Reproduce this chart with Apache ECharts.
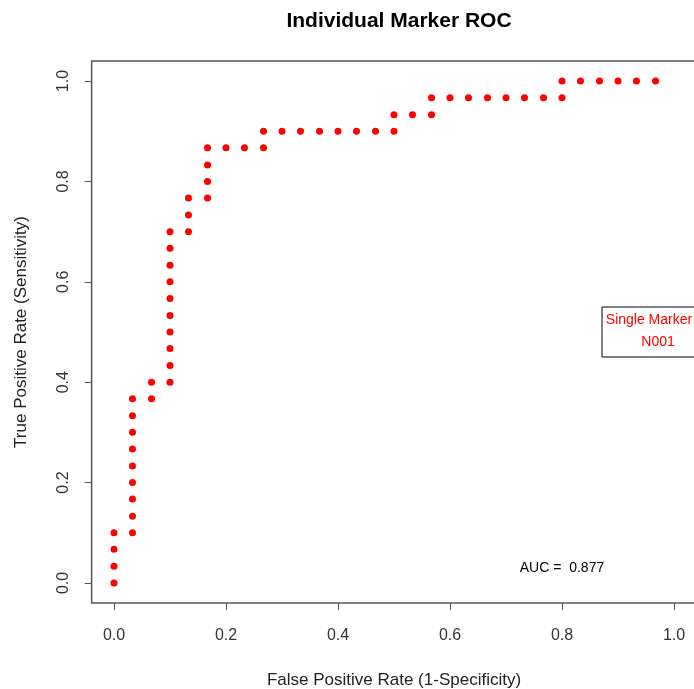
<!DOCTYPE html>
<html>
<head>
<meta charset="utf-8">
<script src="https://cdn.jsdelivr.net/npm/echarts@6/dist/echarts.min.js"></script>
<style>
html,body{margin:0;padding:0;background:#fff;}
#c{width:694px;height:689px;}
</style>
</head>
<body>
<div id="c"></div>
<script>
// False positive rate (x) and true positive rate (y)
const fpr = [
  0, 0, 0, 0,
  0.033, 0.033, 0.033, 0.033, 0.033, 0.033, 0.033, 0.033, 0.033,
  0.067, 0.067,
  0.1, 0.1, 0.1, 0.1, 0.1, 0.1, 0.1, 0.1, 0.1, 0.1,
  0.133, 0.133, 0.133,
  0.167, 0.167, 0.167, 0.167,
  0.2, 0.233, 0.267,
  0.267, 0.3, 0.333, 0.367, 0.4, 0.433, 0.467, 0.5,
  0.5, 0.533, 0.567,
  0.567, 0.6, 0.633, 0.667, 0.7, 0.733, 0.767, 0.8,
  0.8, 0.833, 0.867, 0.9, 0.933, 0.967
];
const tpr = [
  0, 0.033, 0.067, 0.1,
  0.1, 0.133, 0.167, 0.2, 0.233, 0.267, 0.3, 0.333, 0.367,
  0.367, 0.4,
  0.4, 0.433, 0.467, 0.5, 0.533, 0.567, 0.6, 0.633, 0.667, 0.7,
  0.7, 0.733, 0.767,
  0.767, 0.8, 0.833, 0.867,
  0.867, 0.867, 0.867,
  0.9, 0.9, 0.9, 0.9, 0.9, 0.9, 0.9, 0.9,
  0.933, 0.933, 0.933,
  0.967, 0.967, 0.967, 0.967, 0.967, 0.967, 0.967, 0.967,
  1, 1, 1, 1, 1, 1
];
const xTicks = [0, 0.2, 0.4, 0.6, 0.8, 1.0];
const yTicks = [0, 0.2, 0.4, 0.6, 0.8, 1.0];
const titleText = 'Individual Marker ROC';
const xTitle = 'False Positive Rate (1-Specificity)';
const yTitle = 'True Positive Rate (Sensitivity)';
const legendTitle = 'Single Marker';
const legendEntry = 'N001';
const aucLabel = 'AUC =  0.877';
const aucPos = [0.8, 0.03];

const FONT = '"Liberation Sans", Arial, sans-serif';
const chart = echarts.init(document.getElementById('c'), null, {renderer: 'canvas'});
const points = fpr.map((x, i) => [x, tpr[i]]);

chart.setOption({
  animation: false,
  backgroundColor: '#ffffff',
  title: {
    text: titleText,
    left: 394, top: 6, textAlign: 'center',
    textStyle: {fontFamily: FONT, fontSize: 21, fontWeight: 'bold', color: '#000'}
  },
  grid: {
    left: 91.6, top: 61, width: 604.8, height: 542,
    containLabel: false, outerBoundsMode: 'none',
    show: true, borderColor: '#555', borderWidth: 1.5, backgroundColor: 'transparent'
  },
  xAxis: {
    type: 'value', min: -0.04, max: 1.04,
    name: xTitle, nameLocation: 'middle', nameGap: 69,
    nameTextStyle: {fontFamily: FONT, fontSize: 17, color: '#222'},
    axisLine: {show: false, onZero: false},
    splitLine: {show: false},
    axisTick: {show: true, length: 7, customValues: xTicks, lineStyle: {color: '#555', width: 1}},
    axisLabel: {customValues: xTicks, margin: 25, fontFamily: FONT, fontSize: 16, color: '#333',
      formatter: v => v.toFixed(1)}
  },
  yAxis: {
    type: 'value', min: -0.04, max: 1.04,
    name: yTitle, nameLocation: 'middle', nameGap: 62, nameRotate: 90,
    nameTextStyle: {fontFamily: FONT, fontSize: 17, color: '#222'},
    axisLine: {show: false, onZero: false},
    splitLine: {show: false},
    axisTick: {show: true, length: 7, customValues: yTicks, lineStyle: {color: '#555', width: 1}},
    axisLabel: {customValues: yTicks, rotate: 90, margin: 20, fontFamily: FONT, fontSize: 16, color: '#333',
      formatter: v => v.toFixed(1)}
  },
  series: [{
    type: 'scatter',
    data: points,
    symbol: 'circle',
    symbolSize: 7,
    itemStyle: {color: '#ff0000', opacity: 1},
    silent: true
  }]
});

const aucPx = chart.convertToPixel({gridIndex: 0}, aucPos);
chart.setOption({
  graphic: [
    {
      type: 'text', x: aucPx[0], y: aucPx[1],
      style: {text: aucLabel, fontFamily: FONT, fontSize: 14, fill: '#000', align: 'center', verticalAlign: 'middle'}
    },
    {
      type: 'rect', shape: {x: 602, y: 307, width: 100, height: 50},
      style: {fill: '#fff', stroke: '#000', lineWidth: 1}
    },
    {
      type: 'text', x: 649, y: 320,
      style: {text: legendTitle, fontFamily: FONT, fontSize: 14, fill: '#ff0000', align: 'center', verticalAlign: 'middle'}
    },
    {
      type: 'text', x: 658, y: 342,
      style: {text: legendEntry, fontFamily: FONT, fontSize: 14, fill: '#ff0000', align: 'center', verticalAlign: 'middle'}
    }
  ]
});
</script>
</body>
</html>
